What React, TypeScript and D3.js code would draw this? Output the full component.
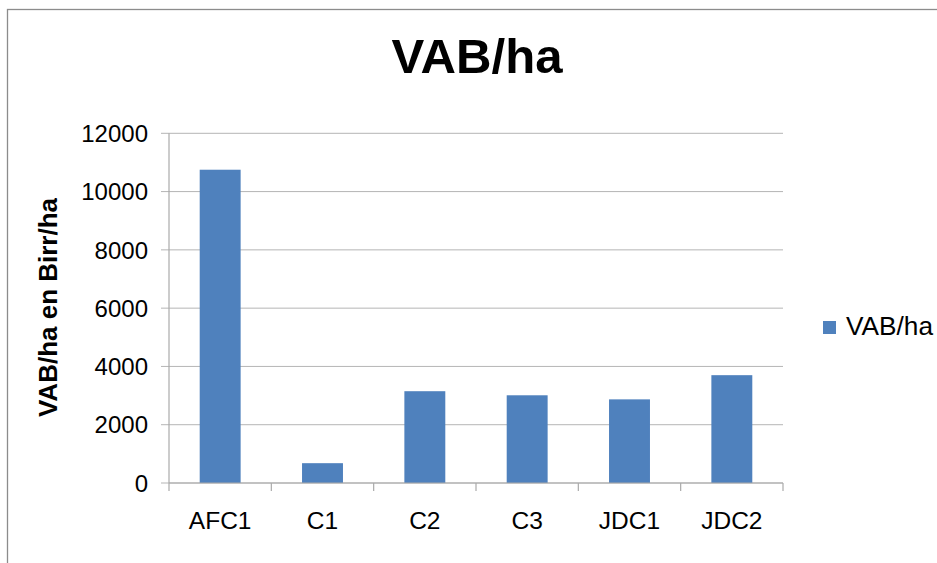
import React from "react";
import * as d3 from "d3";

const categories = ["AFC1", "C1", "C2", "C3", "JDC1", "JDC2"];
const values = [10750, 680, 3150, 3010, 2870, 3700];
const yTicks = [0, 2000, 4000, 6000, 8000, 10000, 12000];
const seriesName = "VAB/ha";
const titleText = "VAB/ha";
const yAxisTitle = "VAB/ha en Birr/ha";

export default function App() {
  const W = 937, H = 563;
  const left = 169, right = 783, top = 133.3, bottom = 483;
  const x = d3.scaleBand<string>().domain(categories).range([left, right]).paddingInner(0.6).paddingOuter(0.3);
  const xb = d3.scaleBand<string>().domain(categories).range([left, right]);
  const y = d3.scaleLinear().domain([0, 12000]).range([bottom, top]);
  const font = "Liberation Sans, Arial, sans-serif";
  const grid = "#b5b5b5";
  return (
    <svg width={W} height={H} style={{ position: "absolute", left: 0, top: 0, background: "#fff" }} fontFamily={font}>
      <rect x={7.5} y={9.5} width={1200} height={1200} fill="none" stroke="#8c8c8c" strokeWidth={1.3} />
      <text x={477} y={73} textAnchor="middle" fontSize={48} fontWeight="bold" fill="#000" textLength={171} lengthAdjust="spacingAndGlyphs">{titleText}</text>
      {yTicks.map((t) => (
        <g key={t}>
          <line x1={left - 8} x2={right} y1={y(t)} y2={y(t)} stroke={grid} strokeWidth={1} />
          <text x={148} y={y(t)} dy="0.36em" textAnchor="end" fontSize={24} fill="#000">{t}</text>
        </g>
      ))}
      <line x1={left} x2={left} y1={top} y2={bottom} stroke="#aaa" strokeWidth={1.2} />
      {categories.map((c, i) => (
        <rect key={c} x={x(c)} y={y(values[i])} width={x.bandwidth()} height={bottom - y(values[i])} fill="#4f81bd" />
      ))}
      <line x1={left} x2={right} y1={bottom} y2={bottom} stroke="#aaa" strokeWidth={1.2} />
      {[...categories.map((c) => xb(c) as number), right].map((v, i) => (
        <line key={i} x1={v} x2={v} y1={bottom} y2={bottom + 8} stroke="#aaa" strokeWidth={1.2} />
      ))}
      {categories.map((c) => (
        <text key={c} x={(xb(c) as number) + xb.bandwidth() / 2} y={529} textAnchor="middle" fontSize={24.5} fill="#000">{c}</text>
      ))}
      <text transform={`translate(57,307.5) rotate(-90)`} textAnchor="middle" fontSize={26} fontWeight="bold" fill="#000">{yAxisTitle}</text>
      <rect x={823} y={321} width={13} height={13} fill="#4f81bd" />
      <text x={846} y={335} fontSize={25} fill="#000" textLength={87} lengthAdjust="spacingAndGlyphs">{seriesName}</text>
    </svg>
  );
}
